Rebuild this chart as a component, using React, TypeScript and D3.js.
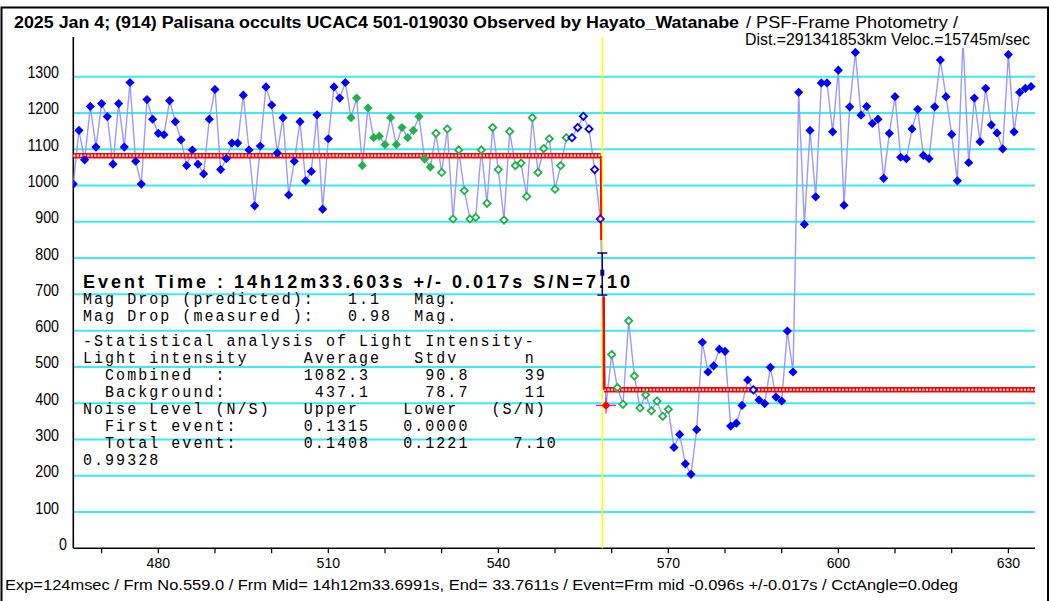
import * as d3 from "d3";

// light curve: one value per frame, starting at frame 465
const firstFrame = 465;
const flux = [
  1004, 1152, 1071, 1218, 1106, 1226, 1190, 1059, 1226, 1106,
  1284, 1067, 1004, 1237, 1183, 1144, 1140, 1234, 1176, 1126,
  1055, 1098, 1059, 1032, 1183, 1265, 1044, 1074, 1117, 1117,
  1249, 1098, 944, 1109, 1272, 1222, 1090, 1187, 974, 1067,
  1176, 1013, 1039, 1195, 935, 1129, 1272, 1241, 1284, 1187,
  1241, 1055, 1214, 1132, 1136, 1113, 1187, 1113, 1160, 1132,
  1152, 1190, 1073, 1051, 1144, 1036, 1156, 908, 1098, 986,
  908, 912, 1098, 951, 1160, 1044, 905, 1149, 1055, 1062,
  970, 1187, 1036, 1102, 1129, 990, 1055, 1132, 1132, 1160,
  1191, 1156, 1044, 908, 394, 534, 443, 397, 627, 475,
  387, 423, 379, 406, 364, 383, 278, 314, 233, 204,
  327, 568, 486, 503, 549, 543, 337, 345, 394, 464,
  437, 409, 399, 499, 417, 406, 599, 486, 1257, 893,
  1152, 969, 1283, 1283, 1148, 1318, 946, 1217, 1367, 1194,
  1218, 1171, 1183, 1020, 1144, 1245, 1078, 1074, 1156, 1210,
  1083, 1074, 1217, 1346, 1245, 1141, 1013, 1400, 1063, 1241,
  1121, 1268, 1167, 1145, 1101, 1361, 1148, 1257, 1268, 1273,
];

// point classes, as runs: B blue, G green, g green open, b blue open, E last pre-event, R first in event
const kindRuns: [string, number][] = [
  ["B", 49], ["G", 15], ["g", 24], ["b", 5], ["E", 1], ["R", 1],
  ["g", 11], ["B", 14], ["b", 1], ["B", 49],
];

const yTicks = [0, 100, 200, 300, 400, 500, 600, 700, 800, 900, 1000, 1100, 1200, 1300];
const xMinorTicks = d3.range(470, 631, 10);
const xLabels = [480, 510, 540, 570, 600, 630];

// fitted step
const combinedLevel = 1082.3;
const backgroundLevel = 437.1;
const stepStartFrame = 558.07;
const stepEndFrame = 558.65;
const eventFrame = 558.35;
const errTop = 814;
const errBottom = 698;
const errMid = 759.7;

const title = "2025 Jan 4; (914) Palisana occults UCAC4 501-019030 Observed by Hayato_Watanabe";
const subtitle = "/ PSF-Frame Photometry /";
const distLine = "Dist.=291341853km Veloc.=15745m/sec";
const footer =
  "Exp=124msec / Frm No.559.0 / Frm Mid= 14h12m33.6991s,  End= 33.7611s / Event=Frm mid -0.096s +/-0.017s / CctAngle=0.0deg";
const eventLine = "Event Time : 14h12m33.603s   +/- 0.017s   S/N=7.10";
const statLines = [
  "Mag Drop (predicted):   1.1   Mag.",
  "Mag Drop (measured ):   0.98  Mag.",
  "-Statistical analysis of Light Intensity-",
  "Light intensity     Average   Stdv      n",
  "  Combined  :       1082.3     90.8     39",
  "  Background:        437.1     78.7     11",
  "Noise Level (N/S)   Upper    Lower   (S/N)",
  "  First event:      0.1315   0.0000",
  "  Total event:      0.1408   0.1221    7.10",
  "0.99328",
];
const statBaselines = [304, 321, 346, 363, 380, 397, 414, 431, 448, 465];

const W = 1049;
const H = 601;

const diamond = (r: number) => `M0,${-r}L${r},0L0,${r}L${-r},0Z`;

export default function App() {
  const x = d3.scaleLinear().domain([465, 634.7]).range([73.3, 1035]);
  const y = d3.scaleLinear().domain([0, 1380]).range([548.3, 47.7]);

  const kinds: string[] = [];
  kindRuns.forEach(([k, n]) => {
    for (let i = 0; i < n; i++) kinds.push(k);
  });
  const pts = flux.map((v, i) => ({ f: firstFrame + i, v, k: kinds[i] }));

  const line = d3
    .line<{ f: number; v: number }>()
    .x((d) => x(d.f))
    .y((d) => y(d.v));

  const [x0, x1] = x.range();
  const yTop = 37;
  const green = "#22b14c";

  const stepUpper = line([
    { f: x.domain()[0], v: combinedLevel },
    { f: stepStartFrame, v: combinedLevel },
  ]) as string;
  const stepLower = line([
    { f: stepEndFrame, v: backgroundLevel },
    { f: x.domain()[1], v: backgroundLevel },
  ]) as string;

  return (
    <svg
      width={W}
      height={H}
      style={{ position: "absolute", left: 0, top: 0, background: "#fff" }}
      fontFamily="'Liberation Sans', Arial, sans-serif"
    >
      <defs>
        <clipPath id="plot">
          <rect x={x0} y={y(1380)} width={x1 - x0 + 2} height={y(0) - y(1380)} />
        </clipPath>
      </defs>
      <rect x={1.5} y={7.5} width={W - 2.5} height={H} fill="#fff" stroke="#000" strokeWidth={2} />

      {/* titles */}
      <text x={14} y={28} fontSize={16} fontWeight="bold" textLength={725} lengthAdjust="spacingAndGlyphs">
        {title}
      </text>
      <text x={746} y={28} fontSize={16} textLength={212} lengthAdjust="spacingAndGlyphs">
        {subtitle}
      </text>
      <text x={745} y={45} fontSize={16} textLength={285} lengthAdjust="spacingAndGlyphs">
        {distLine}
      </text>

      {/* grid */}
      {yTicks
        .filter((t) => t > 0)
        .map((t) => (
          <line key={t} x1={x0} x2={x1} y1={y(t)} y2={y(t)} stroke="#3ee8f6" strokeWidth={2} />
        ))}

      {/* y labels */}
      {yTicks.map((t) => {
        const s = String(t);
        return (
          <text
            key={t}
            x={t === 0 ? 67 : 59}
            y={y(t) + 1.5}
            fontSize={16}
            textAnchor="end"
            textLength={s.length * 7.9}
            lengthAdjust="spacingAndGlyphs"
          >
            {s}
          </text>
        );
      })}

      {/* axes */}
      <line x1={x0} x2={x0} y1={yTop} y2={y(0)} stroke="#000" strokeWidth={1.6} />
      <line x1={x0} x2={x1} y1={y(0)} y2={y(0)} stroke="#000" strokeWidth={1.6} />
      {xMinorTicks.map((t) => (
        <line key={t} x1={x(t)} x2={x(t)} y1={y(0)} y2={y(0) + 5} stroke="#000" strokeWidth={1.2} />
      ))}
      {xLabels.map((t) => (
        <text
          key={t}
          x={x(t)}
          y={568}
          fontSize={15}
          textAnchor="middle"
          textLength={23.4}
          lengthAdjust="spacingAndGlyphs"
        >
          {t}
        </text>
      ))}

      {/* event marker */}
      <line x1={x(eventFrame)} x2={x(eventFrame)} y1={yTop} y2={y(0)} stroke="#ffff00" strokeWidth={1.6} />

      <g clipPath="url(#plot)">
        <path d={line(pts) as string} fill="none" stroke="#9a9aff" strokeWidth={1.4} />
        {[stepUpper, stepLower].map((d, i) => (
          <g key={i}>
            <path d={d} stroke="#ff0000" strokeWidth={5.5} fill="none" />
            <path d={d} stroke="#fff" strokeWidth={2.2} strokeDasharray="2 1.5" fill="none" />
          </g>
        ))}
        <line
          x1={x(stepStartFrame)}
          x2={x(stepStartFrame + 0.08)}
          y1={y(combinedLevel)}
          y2={y(850)}
          stroke="#ff0000"
          strokeWidth={1.8}
        />
        <line
          x1={x(stepEndFrame - 0.05)}
          x2={x(stepEndFrame)}
          y1={y(695)}
          y2={y(backgroundLevel)}
          stroke="#ff0000"
          strokeWidth={2.4}
        />
        <g stroke="#000080" strokeWidth={1.4}>
          <line x1={x(eventFrame)} x2={x(eventFrame)} y1={y(errTop)} y2={y(errBottom)} />
          <line x1={x(eventFrame) - 5} x2={x(eventFrame) + 5} y1={y(errTop)} y2={y(errTop)} />
          <line x1={x(eventFrame) - 5} x2={x(eventFrame) + 5} y1={y(errBottom)} y2={y(errBottom)} />
        </g>
        <rect x={x(eventFrame) - 2} y={y(errMid) - 3} width={4} height={6} fill="#000080" />

        {pts.map((p, i) => {
          const cx = x(p.f);
          const cy = y(p.v);
          const tr = `translate(${cx},${cy})`;
          if (p.k === "B") return <path key={i} transform={tr} d={diamond(4.6)} fill="#0000ff" />;
          if (p.k === "G") return <path key={i} transform={tr} d={diamond(4.6)} fill={green} />;
          if (p.k === "g")
            return <path key={i} transform={tr} d={diamond(3.6)} fill="#fff" stroke={green} strokeWidth={1.8} />;
          if (p.k === "b")
            return <path key={i} transform={tr} d={diamond(3.6)} fill="#fff" stroke="#0000ff" strokeWidth={1.8} />;
          if (p.k === "E")
            return (
              <g key={i} transform={tr}>
                <path d={diamond(3.6)} fill="#fff" stroke="#0000ff" strokeWidth={1.8} />
                <circle r={2.2} fill="#fff" stroke="#ff0000" strokeWidth={1} />
              </g>
            );
          return (
            <g key={i} transform={tr}>
              <line x1={-10} x2={10} y1={0} y2={0} stroke="#ff00ff" strokeWidth={1.2} />
              <line x1={0} x2={0} y1={-8} y2={8} stroke="#ff00ff" strokeWidth={1.2} />
              <path d={diamond(4.4)} fill="#ff0000" />
            </g>
          );
        })}
      </g>

      {/* result text */}
      <text x={83} y={288} fontSize={18} fontWeight="bold" textLength={547} lengthAdjust="spacing">
        {eventLine}
      </text>
      {statLines.map((s, i) => (
        <text
          key={i}
          transform={`translate(83,${statBaselines[i]}) scale(1,1.1)`}
          fontFamily="'Liberation Mono', 'DejaVu Sans Mono', monospace"
          fontSize={15}
          letterSpacing={2.05}
          style={{ whiteSpace: "pre" }}
        >
          {s}
        </text>
      ))}

      <text x={5} y={590} fontSize={14} textLength={953} lengthAdjust="spacingAndGlyphs">
        {footer}
      </text>
    </svg>
  );
}
